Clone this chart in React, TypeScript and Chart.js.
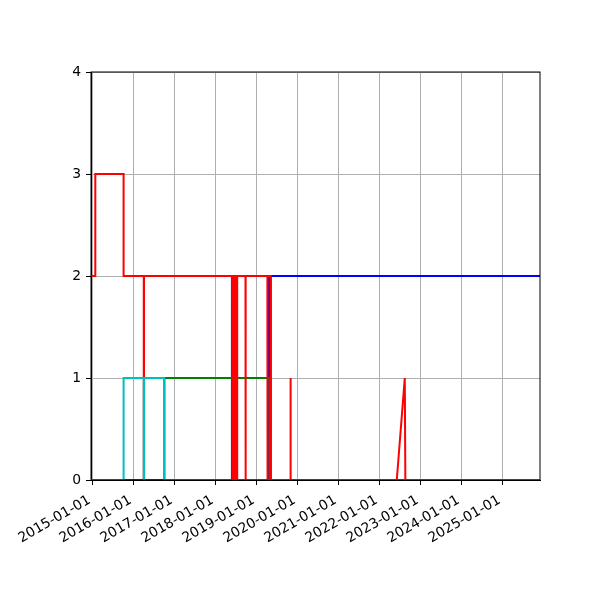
import { useRef, useEffect } from "react";
import { Chart, registerables } from "chart.js";

Chart.register(...registerables);

// x values are decimal years
const xTickYears = [2015, 2016, 2017, 2018, 2019, 2020, 2021, 2022, 2023, 2024, 2025];
const yTicks = [0, 1, 2, 3, 4];

const cyanX = [2014.95, 2015.758, 2015.758, 2016.25, 2016.25, 2016.258, 2016.258, 2016.75, 2016.75, 2026];
const cyanY = [0, 0, 1, 1, 0, 0, 1, 1, 0, 0];

const redX = [
  2014.95, 2015.068, 2015.068, 2015.758, 2015.758,
  2016.25, 2016.25, 2016.256, 2016.256,
  2018.405, 2018.405, 2018.411, 2018.411,
  2018.43, 2018.43, 2018.436, 2018.436,
  2018.455, 2018.455, 2018.461, 2018.461,
  2018.48, 2018.48, 2018.486, 2018.486,
  2018.505, 2018.505, 2018.511, 2018.511,
  2018.525, 2018.525, 2018.531, 2018.531,
  2018.731, 2018.731, 2018.737, 2018.737,
  2019.265, 2019.265, 2019.271, 2019.271,
  2019.346, 2019.346,
  2019.826, 2019.826, 2019.834, 2019.834,
  2022.421, 2022.616, 2022.63, 2026,
];
const redY = [
  2, 2, 3, 3, 2,
  2, 0, 0, 2,
  2, 0, 0, 2,
  2, 0, 0, 2,
  2, 0, 0, 2,
  2, 0, 0, 2,
  2, 0, 0, 2,
  2, 0, 0, 2,
  2, 0, 0, 2,
  2, 0, 0, 2,
  2, 0,
  0, 1, 1, 0,
  0, 1, 0, 0,
];

const greenX = [2014.95, 2016.752, 2016.752, 2019.316, 2019.316, 2026];
const greenY = [0, 0, 1, 1, 0, 0];

const blueX = [2014.95, 2018.4, 2018.4, 2019.297, 2019.297, 2019.346, 2019.346, 2026];
const blueY = [0, 0, 2, 2, 0, 0, 2, 2];

const toPoints = (xs: number[], ys: number[]) => xs.map((x, i) => ({ x, y: ys[i] }));

const frame = {
  id: "frame",
  afterDraw(chart: any) {
    const { ctx, chartArea } = chart;
    ctx.save();
    ctx.strokeStyle = "#000";
    ctx.lineWidth = 1;
    ctx.strokeRect(chartArea.left, chartArea.top, chartArea.right - chartArea.left, chartArea.bottom - chartArea.top);
    ctx.restore();
  },
};

export default function App() {
  const canvasRef = useRef<HTMLCanvasElement>(null);

  useEffect(() => {
    let chart: Chart | undefined;
    if (canvasRef.current) {
      const line = (data: { x: number; y: number }[], color: string) => ({
        data,
        borderColor: color,
        backgroundColor: color,
        borderWidth: 2,
        pointRadius: 0,
        tension: 0,
        fill: false,
      });
      chart = new Chart(canvasRef.current, {
        type: "line",
        data: {
          datasets: [
            line(toPoints(cyanX, cyanY), "#00bfbf"),
            line(toPoints(redX, redY), "#ff0000"),
            line(toPoints(greenX, greenY), "#008000"),
            line(toPoints(blueX, blueY), "#0000ff"),
          ],
        },
        options: {
          responsive: false,
          animation: false,
          devicePixelRatio: 1,
          layout: { padding: { left: 0, top: 72, right: 60, bottom: 0 } },
          plugins: { legend: { display: false }, tooltip: { enabled: false } },
          font: { family: "'DejaVu Sans'", size: 13.9 },
          scales: {
            x: {
              type: "linear",
              min: 2014.963,
              max: 2025.914,
              afterBuildTicks: (scale: any) => {
                scale.ticks = xTickYears.map((v) => ({ value: v }));
              },
              afterFit: (scale: any) => {
                scale.height = 120;
              },
              ticks: {
                color: "#000",
                padding: 7,
                labelOffset: -3,
                minRotation: 30,
                maxRotation: 30,
                autoSkip: false,
                font: { family: "'DejaVu Sans'", size: 13.9 },
                callback: (v: any) => `${v}-01-01`,
              },
              grid: { color: "#b0b0b0", lineWidth: 1, tickColor: "#000", tickLength: 5 },
              border: { color: "#000", width: 1 },
            },
            y: {
              min: 0,
              max: 4,
              afterBuildTicks: (scale: any) => {
                scale.ticks = yTicks.map((v) => ({ value: v }));
              },
              afterFit: (scale: any) => {
                scale.width = 91;
              },
              ticks: {
                color: "#000",
                padding: 5,
                font: { family: "'DejaVu Sans'", size: 13.9 },
              },
              grid: { color: "#b0b0b0", lineWidth: 1, tickColor: "#000", tickLength: 5 },
              border: { color: "#000", width: 1 },
            },
          },
        },
        plugins: [frame],
      });
    }
    return () => {
      if (chart) {
        chart.destroy();
      }
    };
  }, []);

  return (
    <div style={{ position: "absolute", left: 0, top: 0, width: 600, height: 600, background: "#fff" }}>
      <canvas ref={canvasRef} width={600} height={600}></canvas>
    </div>
  );
}
